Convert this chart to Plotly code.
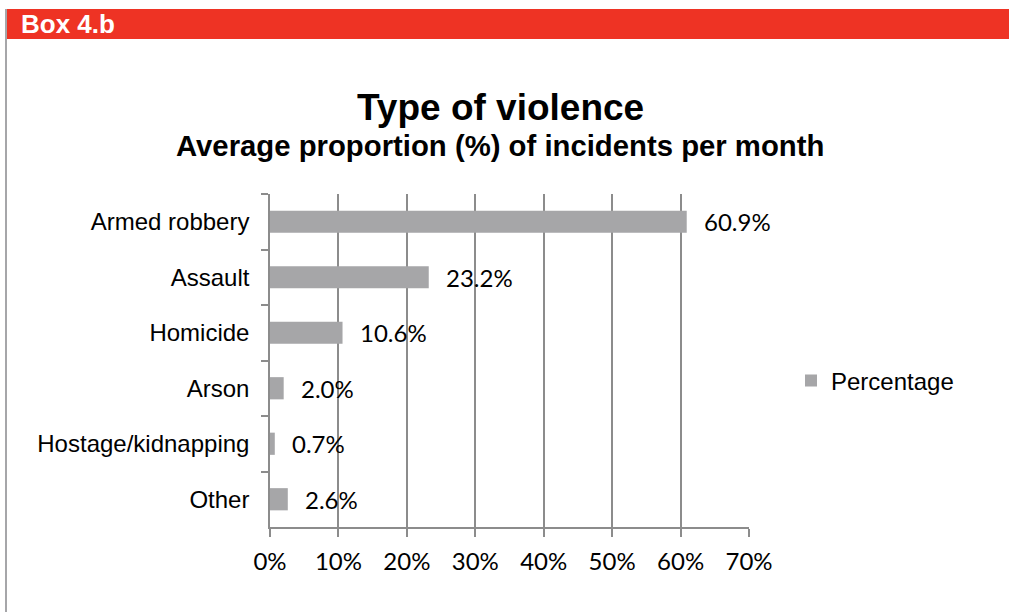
import plotly.graph_objects as go

# Average monthly share of incidents by type of violence
categories = ["Armed robbery", "Assault", "Homicide", "Arson", "Hostage/kidnapping", "Other"]
percentages = [60.9, 23.2, 10.6, 2.0, 0.7, 2.6]
x_ticks = [0, 10, 20, 30, 40, 50, 60, 70]
x_tick_labels = [f"{t}%" for t in x_ticks]

W, H = 1009, 612
BAR_GREY = "#a6a6a8"
GRID_GREY = "#8c8c8c"
RED = "#ee3324"

fig = go.Figure()
fig.add_trace(go.Bar(
    x=percentages,
    y=categories,
    orientation="h",
    name="Percentage",
    marker=dict(color=BAR_GREY, line=dict(width=0)),
    width=0.4,
    hoverinfo="skip",
))

# value labels to the right of each bar
annotations = [
    dict(x=v, y=c, xref="x", yref="y", text=f"{v:.1f}%", showarrow=False,
         xanchor="left", yanchor="middle", xshift=15,
         font=dict(family="Lato", size=24, color="#000000"))
    for c, v in zip(categories, percentages)
]

# header band text and titles
annotations += [
    dict(x=19 / W, y=1 - 24 / H, xref="paper", yref="paper", text="<b>Box 4.b</b>",
         showarrow=False, xanchor="left", yanchor="middle",
         font=dict(family="Liberation Sans, Arial", size=26, color="#ffffff")),
    dict(x=500 / W, y=1 - 107 / H, xref="paper", yref="paper", text="<b>Type of violence</b>",
         showarrow=False, xanchor="center", yanchor="middle",
         font=dict(family="Liberation Sans, Arial", size=37, color="#000000")),
    dict(x=500 / W, y=1 - 145 / H, xref="paper", yref="paper",
         text="<b>Average proportion (%) of incidents per month</b>",
         showarrow=False, xanchor="center", yanchor="middle",
         font=dict(family="Liberation Sans, Arial", size=29.3, color="#000000")),
]

shapes = [
    # red header band
    dict(type="rect", xref="paper", yref="paper", x0=7 / W, x1=1, y0=1 - 39 / H, y1=1 - 9 / H,
         fillcolor=RED, line=dict(width=0), layer="below"),
    # grey left border of the box
    dict(type="line", xref="paper", yref="paper", x0=6 / W, x1=6 / W, y0=0, y1=1 - 9 / H,
         line=dict(color="#a6a6a9", width=2)),
]

fig.update_layout(
    width=W, height=H,
    margin=dict(l=0, r=0, t=0, b=0, autoexpand=False),
    paper_bgcolor="#ffffff",
    plot_bgcolor="#ffffff",
    bargap=0.6,
    showlegend=True,
    legend=dict(x=791 / W, y=1 - 381 / H, xanchor="left", yanchor="middle",
                font=dict(family="Liberation Sans, Arial", size=24, color="#000000"),
                bgcolor="rgba(0,0,0,0)"),
    annotations=annotations,
    shapes=shapes,
    xaxis=dict(
        domain=[270 / W, 749 / W],
        range=[0, 70],
        tickvals=x_ticks,
        ticktext=x_tick_labels,
        automargin=False,
        showgrid=True, gridcolor=GRID_GREY, gridwidth=1.5,
        showline=True, linecolor=GRID_GREY, linewidth=1.5,
        ticks="outside", ticklen=8, tickcolor=GRID_GREY, tickwidth=1.5,
        ticklabelstandoff=4,
        zeroline=False,
        tickfont=dict(family="Lato", size=24, color="#000000"),
        fixedrange=True,
    ),
    yaxis=dict(
        domain=[1 - 527 / H, 1 - 194 / H],
        autorange="reversed",
        type="category",
        automargin=False,
        showgrid=False,
        showline=True, linecolor=GRID_GREY, linewidth=1.5,
        ticks="outside", ticklen=7, tickcolor=GRID_GREY, tickwidth=1.5,
        tickson="boundaries",
        ticklabelstandoff=14,
        tickfont=dict(family="Liberation Sans, Arial", size=24, color="#000000"),
        fixedrange=True,
    ),
)

fig.write_html("out.html")
